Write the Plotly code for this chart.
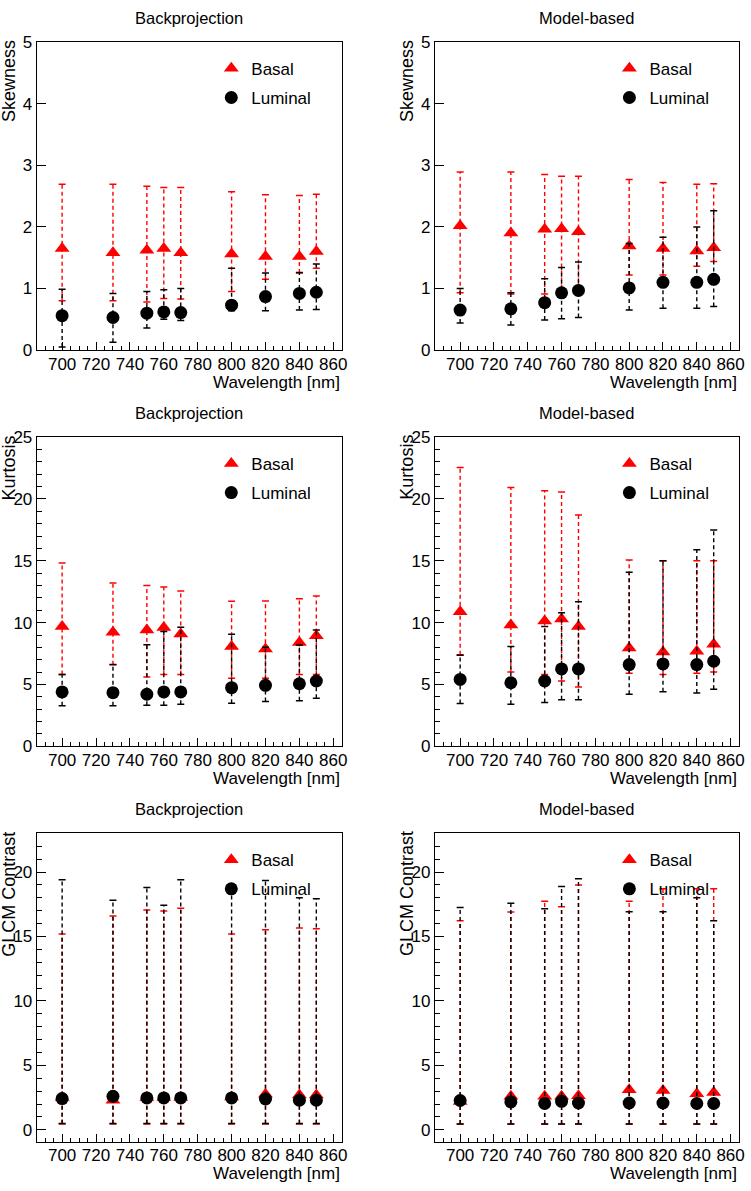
import plotly.graph_objects as go

W, H = 751, 1191
FONT = "Liberation Sans, Arial, Helvetica, sans-serif"

wavelength = [700, 730, 750, 760, 770, 800, 820, 840, 850]
series_names = ["Basal", "Luminal"]
panel_titles = ["Backprojection", "Model-based"]
row_ylabels = ["Skewness", "Kurtosis", "GLCM Contrast"]
x_title = "Wavelength [nm]"

# ---- Skewness, Backprojection
skew_bp_basal = [1.65, 1.58, 1.62, 1.65, 1.58, 1.56, 1.52, 1.52, 1.60]
skew_bp_basal_hi = [2.69, 2.69, 2.66, 2.64, 2.64, 2.57, 2.52, 2.51, 2.53]
skew_bp_basal_lo = [0.80, 0.80, 0.78, 0.84, 0.83, 0.95, 1.15, 1.25, 1.33]
skew_bp_lum = [0.56, 0.53, 0.60, 0.62, 0.61, 0.73, 0.87, 0.92, 0.94]
skew_bp_lum_hi = [0.99, 0.92, 0.95, 0.98, 1.00, 1.33, 1.25, 1.26, 1.40]
skew_bp_lum_lo = [0.05, 0.13, 0.36, 0.50, 0.48, 0.64, 0.64, 0.65, 0.66]

# ---- Skewness, Model-based
skew_mb_basal = [2.02, 1.90, 1.96, 1.97, 1.92, 1.69, 1.65, 1.61, 1.66]
skew_mb_basal_hi = [2.89, 2.89, 2.85, 2.82, 2.82, 2.77, 2.72, 2.69, 2.70]
skew_mb_basal_lo = [0.93, 0.91, 0.91, 1.00, 0.95, 1.22, 1.22, 1.36, 1.44]
skew_mb_lum = [0.65, 0.67, 0.77, 0.93, 0.97, 1.01, 1.10, 1.10, 1.15]
skew_mb_lum_hi = [1.00, 0.93, 1.16, 1.34, 1.43, 1.73, 1.83, 2.00, 2.26]
skew_mb_lum_lo = [0.44, 0.41, 0.49, 0.51, 0.53, 0.65, 0.68, 0.68, 0.71]

# ---- Kurtosis, Backprojection
kurt_bp_basal = [9.68, 9.22, 9.41, 9.60, 9.09, 8.08, 7.86, 8.40, 8.93]
kurt_bp_basal_hi = [14.82, 13.20, 13.00, 12.88, 12.56, 11.73, 11.75, 11.94, 12.16]
kurt_bp_basal_lo = [5.80, 6.60, 5.60, 5.80, 5.80, 5.50, 5.50, 5.80, 5.80]
kurt_bp_lum = [4.40, 4.34, 4.21, 4.40, 4.40, 4.74, 4.93, 5.06, 5.28]
kurt_bp_lum_hi = [5.81, 6.61, 8.21, 9.28, 9.62, 9.06, 8.00, 8.20, 9.41]
kurt_bp_lum_lo = [3.28, 3.28, 3.33, 3.33, 3.41, 3.49, 3.62, 3.68, 3.89]

# ---- Kurtosis, Model-based
kurt_mb_basal = [10.88, 9.81, 10.13, 10.29, 9.68, 7.94, 7.62, 7.68, 8.26]
kurt_mb_basal_hi = [22.53, 20.93, 20.66, 20.56, 18.69, 15.06, 15.00, 15.00, 15.00]
kurt_mb_basal_lo = [7.40, 6.00, 5.80, 5.28, 4.80, 5.90, 5.80, 5.90, 6.00]
kurt_mb_lum = [5.41, 5.14, 5.28, 6.26, 6.26, 6.61, 6.66, 6.61, 6.88]
kurt_mb_lum_hi = [7.36, 8.08, 9.68, 10.80, 11.68, 14.08, 15.00, 15.89, 17.49]
kurt_mb_lum_lo = [3.46, 3.41, 3.54, 3.76, 3.76, 4.21, 4.42, 4.32, 4.61]

# ---- GLCM Contrast, Backprojection
glcm_bp_basal = [2.50, 2.30, 2.50, 2.50, 2.50, 2.55, 2.75, 2.70, 2.70]
glcm_bp_basal_hi = [15.19, 16.59, 17.05, 16.97, 17.18, 15.19, 15.52, 15.65, 15.60]
glcm_bp_basal_lo = [0.45, 0.45, 0.45, 0.45, 0.45, 0.45, 0.45, 0.45, 0.45]
glcm_bp_lum = [2.42, 2.60, 2.47, 2.47, 2.47, 2.47, 2.39, 2.29, 2.29]
glcm_bp_lum_hi = [19.39, 17.81, 18.80, 17.43, 19.39, 18.88, 19.34, 18.00, 17.92]
glcm_bp_lum_lo = [0.48, 0.48, 0.48, 0.48, 0.48, 0.48, 0.48, 0.48, 0.48]

# ---- GLCM Contrast, Model-based
glcm_mb_basal = [2.20, 2.60, 2.60, 2.60, 2.65, 3.10, 3.05, 2.80, 2.90]
glcm_mb_basal_hi = [16.21, 16.90, 17.74, 17.30, 19.00, 17.74, 18.70, 18.70, 18.70]
glcm_mb_basal_lo = [0.45, 0.45, 0.45, 0.45, 0.45, 0.45, 0.45, 0.45, 0.45]
glcm_mb_lum = [2.27, 2.16, 2.04, 2.21, 2.08, 2.08, 2.08, 2.04, 2.04]
glcm_mb_lum_hi = [17.25, 17.58, 17.15, 18.88, 19.47, 16.92, 16.92, 18.00, 16.21]
glcm_mb_lum_lo = [0.45, 0.45, 0.45, 0.45, 0.45, 0.45, 0.45, 0.45, 0.45]

panels = [
    (skew_bp_basal, skew_bp_basal_lo, skew_bp_basal_hi, skew_bp_lum, skew_bp_lum_lo, skew_bp_lum_hi),
    (skew_mb_basal, skew_mb_basal_lo, skew_mb_basal_hi, skew_mb_lum, skew_mb_lum_lo, skew_mb_lum_hi),
    (kurt_bp_basal, kurt_bp_basal_lo, kurt_bp_basal_hi, kurt_bp_lum, kurt_bp_lum_lo, kurt_bp_lum_hi),
    (kurt_mb_basal, kurt_mb_basal_lo, kurt_mb_basal_hi, kurt_mb_lum, kurt_mb_lum_lo, kurt_mb_lum_hi),
    (glcm_bp_basal, glcm_bp_basal_lo, glcm_bp_basal_hi, glcm_bp_lum, glcm_bp_lum_lo, glcm_bp_lum_hi),
    (glcm_mb_basal, glcm_mb_basal_lo, glcm_mb_basal_hi, glcm_mb_lum, glcm_mb_lum_lo, glcm_mb_lum_hi),
]

y_ranges = [[0, 5], [0, 25], [-0.92, 23.0]]
y_minor = [None, 1, 1]
x_range = [685, 865]

# layout geometry (pixels)
col_px = [(37.0, 344.5), (438.3, 745.0)]
row_px = [(33.5, 346.7), (435.0, 749.3), (837.7, 1151.0)]

RED = "#ff0000"
BLACK = "#000000"


def px2x(p):
    return p / W


def px2y(p):
    return 1 - p / H


def err_xy(xs, lo, hi):
    ex, ey = [], []
    for x, l, h in zip(xs, lo, hi):
        ex += [x, x, None]
        ey += [l, h, None]
    return ex, ey


fig = go.Figure()
layout = {}
annotations = []

for i, (b, blo, bhi, l, llo, lhi) in enumerate(panels):
    r, c = divmod(i, 2)
    n = i + 1
    xa = "x" if n == 1 else f"x{n}"
    ya = "y" if n == 1 else f"y{n}"
    lg = "legend" if n == 1 else f"legend{n}"

    for (vals, lo, hi, color, sym, name) in [
        (b, blo, bhi, RED, "triangle-up", series_names[0]),
        (l, llo, lhi, BLACK, "circle", series_names[1]),
    ]:
        ex, ey = err_xy(wavelength, lo, hi)
        fig.add_trace(go.Scatter(x=ex, y=ey, mode="lines", xaxis=xa, yaxis=ya,
                                 line=dict(color=color, width=1.4, dash="4px,3px"),
                                 showlegend=False, hoverinfo="skip"))
        fig.add_trace(go.Scatter(x=wavelength + wavelength, y=lo + hi, mode="markers",
                                 xaxis=xa, yaxis=ya,
                                 marker=dict(symbol="line-ew", size=5, color=color,
                                             line=dict(color=color, width=1.5)),
                                 showlegend=False, hoverinfo="skip"))
        fig.add_trace(go.Scatter(x=wavelength, y=vals, mode="markers", xaxis=xa, yaxis=ya,
                                 name=name, legend=lg, legendgroup=f"{lg}{name}",
                                 marker=dict(symbol=sym, size=13, color=color,
                                             line=dict(width=0))))

    x0, x1 = col_px[c]
    y0, y1 = row_px[r]
    xkey = "xaxis" if n == 1 else f"xaxis{n}"
    ykey = "yaxis" if n == 1 else f"yaxis{n}"
    layout[xkey] = dict(domain=[px2x(x0), px2x(x1)], anchor=ya, range=x_range,
                        tick0=700, dtick=20, ticks="inside", ticklen=8, tickwidth=1,
                        tickcolor="black", showgrid=False, zeroline=False,
                        showline=True, mirror=True, linecolor="black", linewidth=1,
                        ticklabelstandoff=-2,
                        tickfont=dict(family=FONT, size=17, color="black"),
                        minor=dict(dtick=5, tick0=700, ticks="inside", ticklen=4,
                                   tickcolor="black", showgrid=False))
    ydict = dict(domain=[px2y(y1), px2y(y0)], anchor=xa, range=y_ranges[r],
                 tick0=0, dtick=(1 if r == 0 else 5), ticks="inside", ticklen=9, tickwidth=1,
                 tickcolor="black", showgrid=False, zeroline=False,
                 showline=True, mirror=True, linecolor="black", linewidth=1,
                 tickfont=dict(family=FONT, size=17, color="black"))
    if y_minor[r]:
        ydict["minor"] = dict(dtick=y_minor[r], tick0=0, ticks="inside", ticklen=5,
                              tickcolor="black", showgrid=False)
    layout[ykey] = ydict

    # legend box placement
    leg_x = x0 + 176
    leg_y = y0 + 9
    layout[lg] = dict(x=px2x(leg_x), y=px2y(leg_y), xanchor="left", yanchor="top",
                      bgcolor="rgba(0,0,0,0)", borderwidth=0,
                      font=dict(family=FONT, size=17, color="black"),
                      traceorder="grouped", tracegroupgap=4, itemwidth=30)

    # panel title
    title_y = [9, 411, 813][r]
    annotations.append(dict(text=panel_titles[c], x=px2x((x0 + x1) / 2), y=px2y(title_y),
                            xref="paper", yref="paper", xanchor="center", yanchor="middle",
                            showarrow=False, font=dict(family=FONT, size=16.5, color="black")))
    # y title
    annotations.append(dict(text=row_ylabels[r], x=px2x(x0 - 28), y=px2y(y0 - 4),
                            xref="paper", yref="paper", xanchor="center", yanchor="top",
                            textangle=-90, showarrow=False,
                            font=dict(family=FONT, size=18, color="black")))
    # x title
    annotations.append(dict(text=x_title, x=px2x(x1), y=px2y(y1 + 32.5),
                            xref="paper", yref="paper", xanchor="right", yanchor="middle",
                            showarrow=False, font=dict(family=FONT, size=17, color="black")))

fig.update_layout(**layout)
fig.update_layout(width=W, height=H, margin=dict(l=0, r=0, t=0, b=0),
                  paper_bgcolor="white", plot_bgcolor="white",
                  annotations=annotations, showlegend=True,
                  font=dict(family=FONT, color="black"))

fig.write_html("out.html", config={"displayModeBar": False},
               post_script="document.body.style.margin='0';document.body.style.padding='0';"
                           "document.documentElement.style.overflow='hidden';")
